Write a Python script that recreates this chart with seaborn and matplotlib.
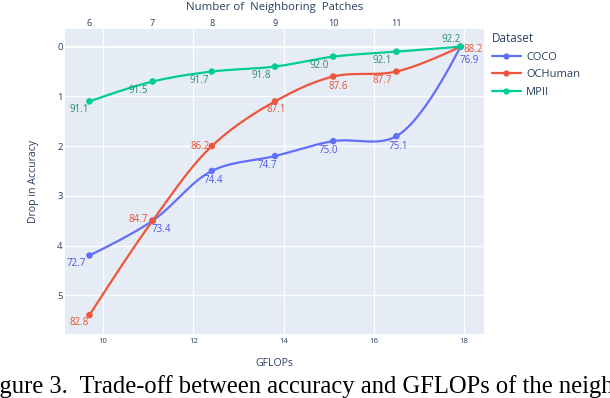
import numpy as np
import pandas as pd
import matplotlib
matplotlib.use("Agg")
import matplotlib.pyplot as plt
import seaborn as sns
from matplotlib.lines import Line2D

# ---------------- data ----------------
gflops = [9.70, 11.10, 12.41, 13.81, 15.10, 16.50, 17.92]
patch_ticks = [6, 7, 8, 9, 10, 11]
datasets = ["COCO", "OCHuman", "MPII"]
coco_drop = [4.2, 3.5, 2.5, 2.2, 1.9, 1.8, 0.0]
ochuman_drop = [5.4, 3.5, 2.0, 1.1, 0.6, 0.5, 0.0]
mpii_drop = [1.1, 0.7, 0.5, 0.4, 0.2, 0.1, 0.0]
coco_acc = ["72.7", "73.4", "74.4", "74.7", "75.0", "75.1", "76.9"]
ochuman_acc = ["82.8", "84.7", "86.2", "87.1", "87.6", "87.7", "88.2"]
mpii_acc = ["91.1", "91.5", "91.7", "91.8", "92.0", "92.1", "92.2"]
x_ticks = [10, 12, 14, 16, 18]
y_ticks = [0, 1, 2, 3, 4, 5]

drops = {"COCO": coco_drop, "OCHuman": ochuman_drop, "MPII": mpii_drop}
accs = {"COCO": coco_acc, "OCHuman": ochuman_acc, "MPII": mpii_acc}

# ---------------- style ----------------
colors = {"COCO": "#636EFA", "OCHuman": "#EF553B", "MPII": "#00CC96"}
text_colors = {"COCO": "#4f56e6", "OCHuman": "#e8502f", "MPII": "#2a8c6e"}
font_col = "#2a3f5f"
# label offsets in pixels (dx, dy; dy positive = up)
offsets = {
    "COCO": [(-13, -8), (9, -9), (1, -10), (-8, -9), (-5, -9), (2, -10), (9, -14)],
    "OCHuman": [(-10, -7), (-14, 1), (-12, 0), (1, -8), (5, -10), (-14, -9), (13, -3)],
    "MPII": [(-10, -8), (-14, -9), (-13, -9), (-14, -9), (-14, -9), (-14, -9), (-9, 7)],
}

sns.set_theme(style="white")
plt.rcParams["font.family"] = ["Open Sans", "DejaVu Sans"]

fig = plt.figure(figsize=(6.10, 3.98), dpi=100)
W, H = 610, 398
L, R, T, B = 65.3, 484, 29, 334
ax = fig.add_axes([L / W, 1 - B / H, (R - L) / W, (B - T) / H])
ax.set_facecolor("#E5ECF6")
for s in ax.spines.values():
    s.set_visible(False)
ax.set_xlim(9.165, 18.44)
ax.set_ylim(5.78, -0.356)
ax.set_xticks(x_ticks)
ax.set_yticks(y_ticks)
ax.grid(True, color="white", linewidth=0.9)
ax.set_axisbelow(True)
ax.axhline(0, color="white", linewidth=1.6, zorder=0.5)
ax.tick_params(axis="x", length=0, pad=3, labelsize=5.6, labelcolor=font_col)
ax.tick_params(axis="y", length=0, pad=2, labelsize=6.8, labelcolor=font_col)


# plotly-style spline in pixel space
def tangent(p0, p1, p2, sm=1.0):
    d1 = p0 - p1
    d2 = p2 - p1
    d1a = np.hypot(*d1) ** 0.5
    d2a = np.hypot(*d2) ** 0.5
    num = (d2a * d2a * d1 - d1a * d1a * d2) * sm
    den1 = 3 * d2a * (d1a + d2a)
    den2 = 3 * d1a * (d1a + d2a)
    return p1 + num / den1, p1 - num / den2


def spline(xs, ys, n=40):
    pts = ax.transData.transform(np.column_stack([xs, ys]))
    tans = [tangent(pts[i - 1], pts[i], pts[i + 1]) for i in range(1, len(pts) - 1)]
    t = np.linspace(0, 1, n)[:, None]
    segs = []
    c = tans[0][0]
    segs.append((1 - t) ** 2 * pts[0] + 2 * (1 - t) * t * c + t ** 2 * pts[1])
    for i in range(2, len(pts) - 1):
        c1 = tans[i - 2][1]
        c2 = tans[i - 1][0]
        p0, p3 = pts[i - 1], pts[i]
        segs.append((1 - t) ** 3 * p0 + 3 * (1 - t) ** 2 * t * c1 + 3 * (1 - t) * t ** 2 * c2 + t ** 3 * p3)
    c = tans[-1][1]
    segs.append((1 - t) ** 2 * pts[-2] + 2 * (1 - t) * t * c + t ** 2 * pts[-1])
    allp = np.vstack(segs)
    return ax.transData.inverted().transform(allp)


curve_rows = []
point_rows = []
for d in datasets:
    cv = spline(np.array(gflops), np.array(drops[d]))
    for k, (cx, cy) in enumerate(cv):
        curve_rows.append({"x": cx, "y": cy, "Dataset": d, "order": k})
    for gx, gy in zip(gflops, drops[d]):
        point_rows.append({"GFLOPs": gx, "Drop": gy, "Dataset": d})
curve_df = pd.DataFrame(curve_rows)
point_df = pd.DataFrame(point_rows)

sns.lineplot(data=curve_df, x="x", y="y", hue="Dataset", palette=colors, sort=False,
             estimator=None, units="Dataset", linewidth=1.6, legend=False, ax=ax)
sns.scatterplot(data=point_df, x="GFLOPs", y="Drop", hue="Dataset", palette=colors,
                s=22, linewidth=0, legend=False, ax=ax, zorder=3)

for d in datasets:
    for gx, gy, lab, (dx, dy) in zip(gflops, drops[d], accs[d], offsets[d]):
        ax.annotate(lab, (gx, gy), xytext=(dx, dy), textcoords="offset pixels",
                    ha="center", va="center", fontsize=7, color=text_colors[d], zorder=4)

ax.set_xlabel("GFLOPs", fontsize=7.6, color=font_col, va="center")
ax.xaxis.set_label_coords(0.5, -0.098)
ax.set_ylabel("Drop in Accuracy", fontsize=7.6, color=font_col, va="center")
ax.yaxis.set_label_coords(-0.075, 0.5)

# top axis: number of neighbouring patches
ax2 = ax.twiny()
ax2.set_xlim(ax.get_xlim())
ax2.set_xticks(gflops[: len(patch_ticks)])
ax2.set_xticklabels([str(p) for p in patch_ticks])
ax2.tick_params(axis="x", length=0, pad=0.5, labelsize=6.6, labelcolor=font_col)
for s in ax2.spines.values():
    s.set_visible(False)
ax2.grid(False)
ax2.set_xlabel("Number of  Neighboring  Patches", fontsize=8.2, color=font_col, va="center")
ax2.xaxis.set_label_coords(0.5, 1 + 21 / 305)

# legend
handles = [Line2D([0], [0], color=colors[d], lw=1.6, marker="o", markersize=4.5,
                  markeredgewidth=0) for d in datasets]
leg = fig.legend(handles, datasets, title="Dataset", loc="upper left",
                 bbox_to_anchor=(492 / W, 1 - 32 / H), frameon=False, fontsize=8,
                 title_fontsize=8.4, handlelength=2.6, handletextpad=0.45,
                 labelspacing=0.6, borderpad=0, borderaxespad=0, alignment="left")
for txt in leg.get_texts():
    txt.set_color(font_col)
leg.get_title().set_color(font_col)

# caption (cropped at the figure edges, as in the reference)
fig.text(-21 / W, 5 / H, "Figure 3.  Trade-off between accuracy and GFLOPs of the neighboring patches.",
         fontsize=17.7, family=["Liberation Serif", "DejaVu Serif"], color="black",
         ha="left", va="baseline")

fig.savefig("out.png", dpi=100)
